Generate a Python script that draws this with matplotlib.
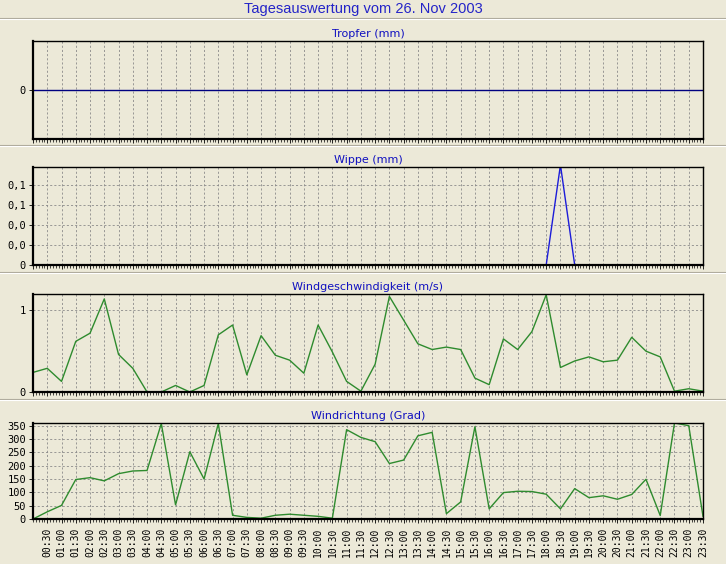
import matplotlib
matplotlib.use("Agg")
import matplotlib.pyplot as plt
from matplotlib.lines import Line2D
from matplotlib.ticker import MultipleLocator, FixedLocator

# half-hour slots 00:00 .. 23:30
times = ["%02d:%02d" % (h, m) for h in range(24) for m in (0, 30)]

tropfer = [0] * 48

wippe = [0] * 48
wippe[37] = 0.2  # 18:30

windgeschw = [0.24, 0.29, 0.13, 0.62, 0.72, 1.14, 0.46, 0.29, 0.0, 0.0,
              0.08, 0.0, 0.08, 0.70, 0.82, 0.21, 0.69, 0.45, 0.39, 0.23,
              0.82, 0.49, 0.13, 0.01, 0.34, 1.17, 0.88, 0.59, 0.52, 0.55,
              0.52, 0.17, 0.09, 0.65, 0.52, 0.74, 1.19, 0.30, 0.38, 0.43,
              0.37, 0.39, 0.67, 0.50, 0.43, 0.01, 0.04, 0.01]

windrichtung = [0, 27, 51, 148, 155, 143, 170, 180, 182, 358,
                53, 252, 150, 358, 14, 6, 3, 14, 18, 14,
                10, 3, 335, 306, 290, 208, 221, 312, 325, 20,
                64, 346, 38, 99, 104, 103, 93, 38, 114, 80,
                87, 74, 92, 149, 13, 360, 350, 10]

wippe_ticks = [0, 0.04, 0.08, 0.12, 0.16]
wippe_labels = ["0", "0,0", "0,0", "0,1", "0,1"]

bg = "#ECE9D8"
title_col = "#2424C8"
grid_kw = dict(color="#8A8A8A", linestyle=(0, (2.5, 2.5)), linewidth=0.6)

fig = plt.figure(figsize=(7.26, 5.64), dpi=100, facecolor=bg)

# separator lines between the panels
for yp in [18, 145, 272, 399]:
    yf = 1 - yp / 564.0
    fig.add_artist(Line2D([0, 1], [yf, yf], color="#ACA899", lw=0.8))
    fig.add_artist(Line2D([0, 1], [yf - 1 / 564.0, yf - 1 / 564.0], color="white", lw=0.8))

fig.text(0.5, 1 - 9 / 564.0, "Tagesauswertung vom 26. Nov 2003", ha="center", va="center",
         fontsize=10.5, color=title_col, family="Liberation Sans")

left = 33 / 726.0
width = 670 / 726.0
panels = [(41, 139), (167, 265), (294, 392), (423, 519)]
axes = []
for top, bottom in panels:
    ax = fig.add_axes([left, 1 - bottom / 564.0, width, (bottom - top) / 564.0], facecolor=bg)
    axes.append(ax)

x = list(range(48))
subtitles = ["Tropfer (mm)", "Wippe (mm)", "Windgeschwindigkeit (m/s)", "Windrichtung (Grad)"]
series = [tropfer, wippe, windgeschw, windrichtung]
colors = ["#000080", "#1C1CD8", "#2E8B2E", "#2E8B2E"]

for i, ax in enumerate(axes):
    ax.plot(x, series[i], color=colors[i], lw=1.0, zorder=2, clip_on=True)
    ax.set_xlim(0, 47)
    ax.xaxis.set_major_locator(MultipleLocator(1))
    ax.xaxis.set_minor_locator(MultipleLocator(0.2))
    ax.grid(True, axis="x", **grid_kw)
    ax.tick_params(axis="x", which="major", length=3, width=0.6, direction="out")
    ax.tick_params(axis="x", which="minor", length=2, width=0.5, direction="out")
    ax.tick_params(axis="y", length=3, width=0.6, labelsize=7.5, pad=2)
    for sp in ["top", "right"]:
        ax.spines[sp].set_linewidth(1.0)
    for sp in ["left", "bottom"]:
        ax.spines[sp].set_linewidth(1.6)
    ax.set_title(subtitles[i], fontsize=8, color="#1010C0", pad=3)
    for lab in ax.get_yticklabels():
        lab.set_family("DejaVu Sans Mono")

# Tropfer
axes[0].set_ylim(-1, 1)
axes[0].set_yticks([0])
axes[0].set_xticklabels([])

# Wippe
axes[1].set_ylim(0, 0.196)
axes[1].yaxis.set_major_locator(FixedLocator(wippe_ticks))
axes[1].set_yticklabels(wippe_labels, family="DejaVu Sans Mono", fontsize=7.5)
axes[1].grid(True, axis="y", **grid_kw)
axes[1].set_xticklabels([])

# Windgeschwindigkeit
axes[2].set_ylim(0, 1.2)
axes[2].set_yticks([0, 1])
axes[2].set_yticklabels(["0", "1"], family="DejaVu Sans Mono", fontsize=7.5)
axes[2].grid(True, axis="y", **grid_kw)
axes[2].set_xticklabels([])

# Windrichtung
ax = axes[3]
ax.set_ylim(0, 360)
ax.set_yticks(range(0, 351, 50))
ax.set_yticklabels([str(v) for v in range(0, 351, 50)], family="DejaVu Sans Mono", fontsize=7.5)
ax.grid(True, axis="y", **grid_kw)
ax.set_xticks(x[1:])
ax.set_xticklabels(times[1:], rotation=90, family="DejaVu Sans Mono", fontsize=7)

fig.savefig("out.png", dpi=100, facecolor=bg)
